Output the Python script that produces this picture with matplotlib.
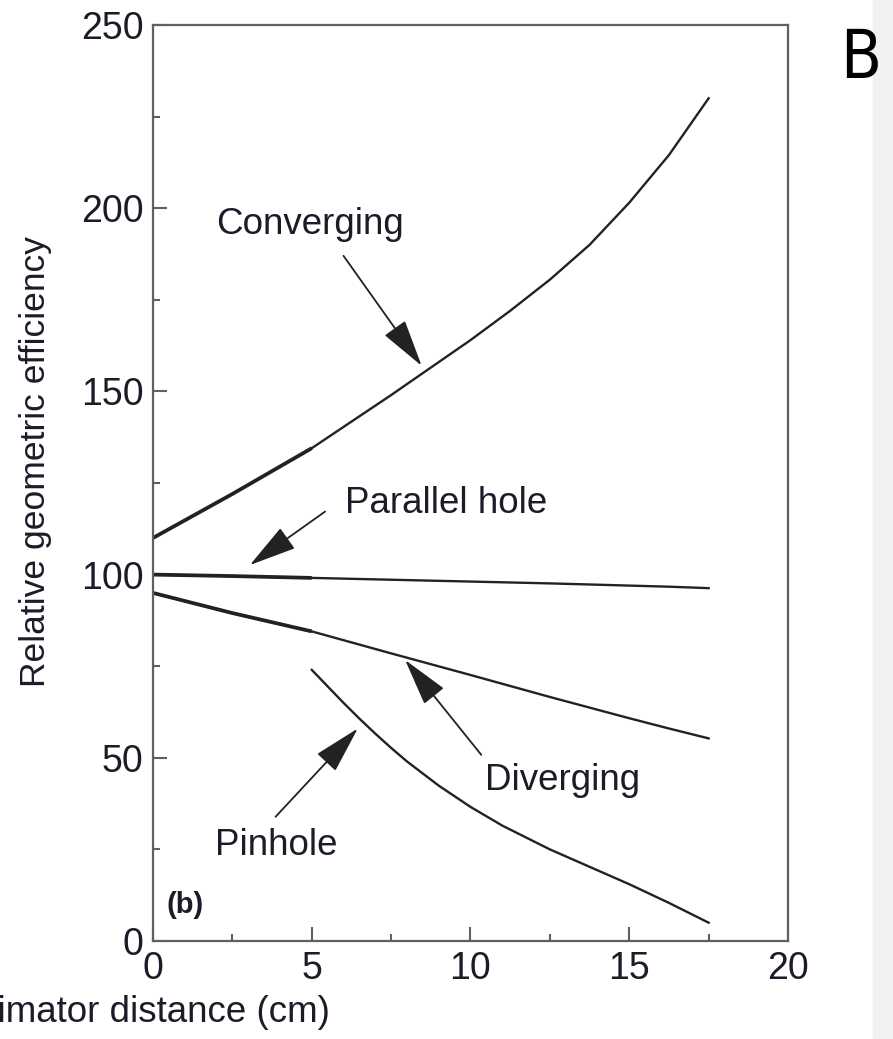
import numpy as np
import matplotlib
matplotlib.use('Agg')
import matplotlib.pyplot as plt

# values
dist = [0, 2.5, 5, 7.5, 10, 11.25, 12.5, 13.75, 15, 16.25, 17.5]
converging = [110, 122, 134.5, 149, 164, 172, 180.5, 190, 201.5, 214.5, 230]
parallel = [100, 99.6, 99.1, 98.6, 98.1, 97.85, 97.6, 97.3, 97.0, 96.7, 96.3]
diverging = [95, 89.5, 84.5, 78.5, 72.6, 69.6, 66.6, 63.7, 60.8, 58.0, 55.3]

pin_dist = [5, 5.5, 6, 6.5, 7, 7.5, 8, 9, 10, 11, 12.5, 14, 15, 16.25, 17.5]
pinhole = [74, 69.5, 65, 60.7, 56.6, 52.7, 49, 42.4, 36.6, 31.5, 25, 19.3, 15.5, 10.4, 5]

labels = ['Converging', 'Parallel hole', 'Diverging', 'Pinhole']
label_pos = [(2.0, 195.5), (6.05, 119.5), (10.46, 43.7), (1.95, 26)]
arrow_from = [(6.0, 187), (5.42, 117.2), (10.34, 50.8), (3.86, 33.9)]
arrow_to = [(8.46, 157), (3.05, 102.6), (7.94, 76.7), (6.45, 58)]

x_ticks = [0, 5, 10, 15, 20]
y_ticks = [0, 50, 100, 150, 200, 250]

plt.rcParams['font.family'] = ['Liberation Sans', 'DejaVu Sans']
txt = '#1c1c28'
ink = '#222222'
frame = '#606060'

fig = plt.figure(figsize=(8.93, 10.39), dpi=100)
# light strip on the right edge of the scan
fig.patches.append(plt.Rectangle((873 / 893, 0), 20 / 893, 1, transform=fig.transFigure,
                                 color='#f1f1f1', zorder=0))
ax = fig.add_axes([153 / 893, 1 - 941 / 1039, 635 / 893, 916 / 1039])

ax.plot(dist, converging, color=ink, lw=1.7)
ax.plot(dist, parallel, color=ink, lw=1.7)
ax.plot(dist, diverging, color=ink, lw=1.7)
ax.plot(pin_dist, pinhole, color=ink, lw=1.7)
# first segment of each curve is drawn heavier in the original
for ys in (converging, parallel, diverging):
    ax.plot(dist[:3], ys[:3], color=ink, lw=2.7, solid_capstyle='butt')

for lab, pos in zip(labels, label_pos):
    ax.text(pos[0], pos[1], lab, fontsize=26.5, color=txt, ha='left', va='center')
for a, b in zip(arrow_from, arrow_to):
    ax.annotate('', xy=b, xytext=a,
                arrowprops=dict(arrowstyle='-|>,head_length=1.5,head_width=0.4',
                                mutation_scale=20, lw=1.3, color=ink,
                                shrinkA=0, shrinkB=0))
ax.text(0.44, 9.8, '(b)', fontsize=21, fontweight='bold', color=txt, ha='left', va='center')

ax.set_xlim(0, 20)
ax.set_ylim(0, 250)
ax.set_xticks(x_ticks)
ax.set_yticks(y_ticks)
ax.set_xticks(np.arange(2.5, 20, 5), minor=True)
ax.set_yticks(np.arange(25, 250, 50), minor=True)
ax.tick_params(which='major', direction='in', length=10, width=1.5, color=frame,
               labelsize=27, labelcolor=txt, pad=7)
ax.tick_params(which='minor', direction='in', length=5, width=1.5, color=frame)
for s in ax.spines.values():
    s.set_color(frame)
    s.set_linewidth(1.6)

fig.text(36 / 893, 1 - 462 / 1039, 'Relative geometric efficiency', rotation=90,
         fontsize=25.5, color=txt, ha='center', va='center')
fig.text(330 / 893, 1 - 1012 / 1039, 'Collimator distance (cm)', fontsize=26.5,
         color=txt, ha='right', va='center')
fig.text(861 / 893, 1 - 59 / 1039, 'B', fontsize=48, color='black', ha='center',
         va='center', family='DejaVu Sans', fontstretch='condensed')

fig.savefig('out.png', dpi=100)
